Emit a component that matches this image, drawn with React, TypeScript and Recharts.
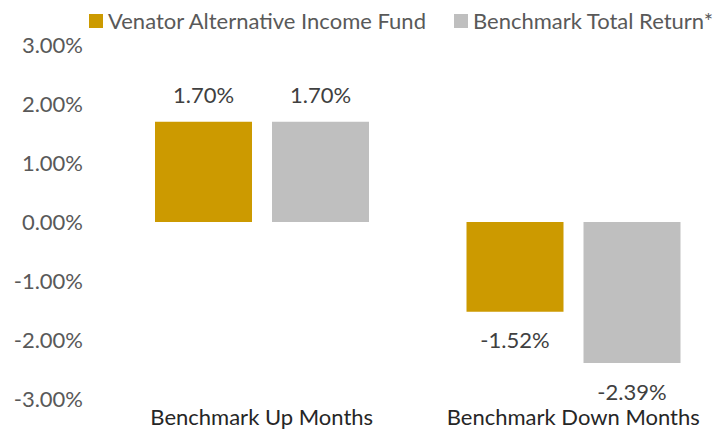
import { BarChart, Bar, XAxis, YAxis, Legend, LabelList } from "recharts";

const categories = ["Benchmark Up Months", "Benchmark Down Months"];
const fundValues = [1.7, -1.52];
const benchmarkValues = [1.7, -2.39];
const yTicks = [-3, -2, -1, 0, 1, 2, 3];

const seriesNames = ["Venator Alternative Income Fund", "Benchmark Total Return*"];
const seriesColors = ["#CC9A00", "#BFBFBF"];

const data = categories.map((name, i) => ({
  name,
  fund: fundValues[i],
  bench: benchmarkValues[i],
}));

const FONT = "Lato, 'Open Sans', sans-serif";

function pct(v: number) {
  return `${v.toFixed(2)}%`;
}

// y is the bar end for positive and negative bars alike
function ValueLabel(props: any) {
  const { x, y, width, value } = props;
  const cy = value < 0 ? y + 29 : y - 26;
  return (
    <text
      x={x + width / 2}
      y={cy}
      dy="0.35em"
      textAnchor="middle"
      fill="#404040"
      fontSize={22}
      fontFamily={FONT}
    >
      {pct(value)}
    </text>
  );
}

function LegendBox() {
  return (
    <div style={{ display: "flex", alignItems: "center", paddingLeft: 89, fontFamily: FONT }}>
      {seriesNames.map((name, i) => (
        <div key={name} style={{ display: "flex", alignItems: "center", marginRight: 28 }}>
          <span style={{ width: 14, height: 14, background: seriesColors[i], display: "inline-block", marginRight: 5 }} />
          <span style={{ fontSize: 22, color: "#595959", whiteSpace: "nowrap" }}>{name}</span>
        </div>
      ))}
    </div>
  );
}

export default function App() {
  return (
    <div style={{ position: "absolute", left: 0, top: 0, width: 725, height: 431, background: "#fff" }}>
      <BarChart
        width={725}
        height={431}
        data={data}
        margin={{ top: 45, right: -4, bottom: 0, left: 0 }}
        barGap={20}
        barSize={97}
      >
        <Legend
          layout="horizontal"
          verticalAlign="middle"
          align="center"
          wrapperStyle={{ top: 7, left: 0, width: 725 }}
          content={<LegendBox />}
        />
        <XAxis
          dataKey="name"
          axisLine={false}
          tickLine={false}
          tickSize={0}
          tickMargin={10}
          height={32}
          interval={0}
          tick={{ fill: "#262626", fontSize: 22, fontFamily: FONT }}
        />
        <YAxis
          domain={[-3, 3]}
          ticks={yTicks}
          tickFormatter={pct}
          axisLine={false}
          tickLine={false}
          tickSize={0}
          tickMargin={23}
          width={106}
          interval={0}
          tick={{ fill: "#595959", fontSize: 22, fontFamily: FONT }}
        />
        <Bar dataKey="fund" name={seriesNames[0]} fill={seriesColors[0]} isAnimationActive={false}>
          <LabelList dataKey="fund" content={<ValueLabel />} />
        </Bar>
        <Bar dataKey="bench" name={seriesNames[1]} fill={seriesColors[1]} isAnimationActive={false}>
          <LabelList dataKey="bench" content={<ValueLabel />} />
        </Bar>
      </BarChart>
    </div>
  );
}
